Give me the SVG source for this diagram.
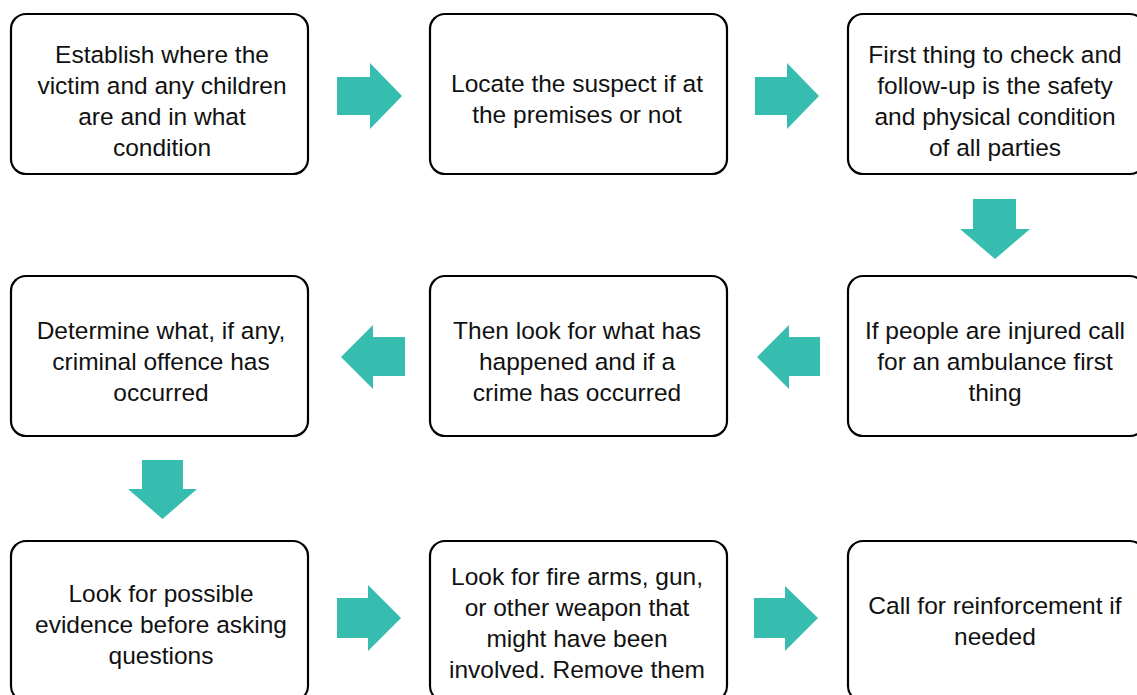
<svg xmlns="http://www.w3.org/2000/svg" width="1137" height="695" viewBox="0 0 1137 695">
<style>
.box{fill:#fff;stroke:#000;stroke-width:2.2}
.t{font-family:"Liberation Sans",Arial,sans-serif;font-size:24.5px;fill:#111;text-anchor:middle}
.arr{fill:#36BDAF}
</style>
<rect width="1137" height="695" fill="#fff"/>
<g id="connectors">
<polygon class="arr" points="337,77 370,77 370,63 402,96 370,129 370,115 337,115"/>
<polygon class="arr" points="755,77 787,77 787,63 819,96 787,129 787,115 755,115"/>
<polygon class="arr" points="973,199 1016,199 1016,229 1030,229 995,259 960,229 973,229"/>
<polygon class="arr" points="820,337 789,337 789,325 757,357 789,389 789,376 820,376"/>
<polygon class="arr" points="405,337 373,337 373,325 341,357 373,389 373,376 405,376"/>
<polygon class="arr" points="142,460 183,460 183,489 197,489 162.5,519 128,489 142,489"/>
<polygon class="arr" points="337,598 368,598 368,585 401,618 368,651 368,638 337,638"/>
<polygon class="arr" points="754,598 785,598 785,586 818,618 785,651 785,638 754,638"/>
</g>
<g id="n1"><rect class="box" x="11" y="14" width="297" height="160" rx="15"/>
<text class="t"><tspan x="162" y="63">Establish where the</tspan><tspan x="162" y="94">victim and any children</tspan><tspan x="162" y="125">are and in what</tspan><tspan x="162" y="156">condition</tspan></text></g>
<g id="n2"><rect class="box" x="430" y="14" width="297" height="160" rx="15"/>
<text class="t"><tspan x="577" y="92">Locate the suspect if at</tspan><tspan x="577" y="123">the premises or not</tspan></text></g>
<g id="n3"><rect class="box" x="848" y="14" width="297" height="160" rx="15"/>
<text class="t"><tspan x="995" y="63">First thing to check and</tspan><tspan x="995" y="94">follow-up is the safety</tspan><tspan x="995" y="125">and physical condition</tspan><tspan x="995" y="156">of all parties</tspan></text></g>
<g id="n4"><rect class="box" x="848" y="276" width="297" height="160" rx="15"/>
<text class="t"><tspan x="995" y="339">If people are injured call</tspan><tspan x="995" y="370">for an ambulance first</tspan><tspan x="995" y="401">thing</tspan></text></g>
<g id="n5"><rect class="box" x="430" y="276" width="297" height="160" rx="15"/>
<text class="t"><tspan x="577" y="339">Then look for what has</tspan><tspan x="577" y="370">happened and if a</tspan><tspan x="577" y="401">crime has occurred</tspan></text></g>
<g id="n6"><rect class="box" x="11" y="276" width="297" height="160" rx="15"/>
<text class="t"><tspan x="161" y="339">Determine what, if any,</tspan><tspan x="161" y="370">criminal offence has</tspan><tspan x="161" y="401">occurred</tspan></text></g>
<g id="n7"><rect class="box" x="11" y="541" width="297" height="160" rx="15"/>
<text class="t"><tspan x="161" y="602">Look for possible</tspan><tspan x="161" y="633">evidence before asking</tspan><tspan x="161" y="664">questions</tspan></text></g>
<g id="n8"><rect class="box" x="430" y="541" width="297" height="160" rx="15"/>
<text class="t"><tspan x="577" y="585">Look for fire arms, gun,</tspan><tspan x="577" y="616">or other weapon that</tspan><tspan x="577" y="647">might have been</tspan><tspan x="577" y="678">involved. Remove them</tspan></text></g>
<g id="n9"><rect class="box" x="848" y="541" width="297" height="160" rx="15"/>
<text class="t"><tspan x="995" y="614">Call for reinforcement if</tspan><tspan x="995" y="645">needed</tspan></text></g>
</svg>
